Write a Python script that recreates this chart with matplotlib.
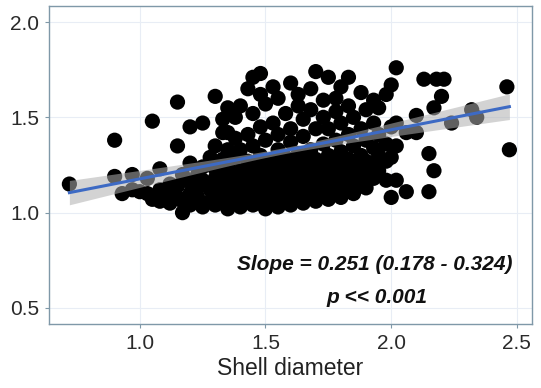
import numpy as np
import matplotlib
matplotlib.use("Agg")
import matplotlib.pyplot as plt

# ---- data ----
columns = {
    0.72: [1.15],
    0.90: [1.19, 1.38],
    0.93: [1.10],
    0.97: [1.20, 1.12],
    1.00: [1.11],
    1.03: [1.10, 1.18],
    1.05: [1.48, 1.07],
    1.08: [1.23, 1.12, 1.06],
    1.12: [1.10, 1.15, 1.05],
    1.15: [1.35, 1.58, 1.08, 1.14],
    1.17: [1.00, 1.06, 1.20],
    1.20: [1.26, 1.45, 1.04, 1.10, 1.16],
    1.23: [1.08, 1.13, 1.20],
    1.25: [1.47, 1.03, 1.17, 1.24],
    1.28: [1.29, 1.06, 1.12],
    1.30: [1.61, 1.04, 1.10, 1.18, 1.23, 1.35],
    1.33: [1.49, 1.07, 1.14, 1.20, 1.28, 1.42],
    1.35: [1.42, 1.02, 1.10, 1.17, 1.25, 1.33, 1.55],
    1.38: [1.50, 1.05, 1.12, 1.20, 1.29, 1.39],
    1.40: [1.56, 1.03, 1.09, 1.15, 1.22, 1.33],
    1.43: [1.65, 1.06, 1.12, 1.19, 1.27, 1.41],
    1.45: [1.71, 1.04, 1.10, 1.17, 1.24, 1.35, 1.52],
    1.48: [1.73, 1.62, 1.07, 1.14, 1.21, 1.30, 1.45],
    1.50: [1.02, 1.09, 1.16, 1.25, 1.38, 1.57],
    1.53: [1.05, 1.12, 1.19, 1.28, 1.47, 1.66],
    1.55: [1.03, 1.09, 1.16, 1.24, 1.33, 1.41, 1.60],
    1.58: [1.06, 1.13, 1.20, 1.29, 1.52],
    1.60: [1.04, 1.10, 1.17, 1.25, 1.37, 1.44, 1.68],
    1.63: [1.07, 1.14, 1.22, 1.31, 1.56, 1.62],
    1.65: [1.05, 1.11, 1.19, 1.27, 1.40, 1.49],
    1.68: [1.08, 1.15, 1.23, 1.33, 1.54, 1.65],
    1.70: [1.06, 1.12, 1.20, 1.28, 1.44, 1.74],
    1.73: [1.09, 1.17, 1.25, 1.36, 1.50, 1.59],
    1.75: [1.07, 1.14, 1.22, 1.30, 1.44, 1.71],
    1.78: [1.10, 1.18, 1.26, 1.38, 1.53, 1.60],
    1.80: [1.08, 1.15, 1.23, 1.32, 1.47, 1.66],
    1.83: [1.12, 1.20, 1.28, 1.41, 1.56, 1.71],
    1.85: [1.10, 1.17, 1.25, 1.35, 1.50],
    1.88: [1.14, 1.22, 1.30, 1.44, 1.63],
    1.90: [1.13, 1.20, 1.27, 1.38, 1.54],
    1.93: [1.18, 1.26, 1.34, 1.47, 1.59],
    1.95: [1.22, 1.30, 1.41, 1.55],
    1.98: [1.17, 1.27, 1.36, 1.62],
    2.00: [1.08, 1.29, 1.45, 1.67],
    2.02: [1.17, 1.47, 1.76, 1.35],
    2.06: [1.11, 1.42],
    2.10: [1.51, 1.42],
    2.13: [1.70],
    2.15: [1.11, 1.31],
    2.17: [1.55, 1.22],
    2.18: [1.70],
    2.20: [1.61],
    2.21: [1.70],
    2.24: [1.47],
    2.32: [1.54],
    2.34: [1.50],
    2.46: [1.66],
    2.47: [1.33],
}
shell_diameter = [x for x, ys in columns.items() for _ in ys]
response = [y for ys in columns.values() for y in ys]

fit_x = [0.72, 2.47]
fit_y = [1.105, 1.556]
band_center_x = 1.57
band_min_hw = 0.016
band_curv = 0.0053

x_ticks = [1.0, 1.5, 2.0, 2.5]
y_ticks = [0.5, 1.0, 1.5, 2.0]
xlabel = "Shell diameter"
annot1 = "Slope = 0.251 (0.178 - 0.324)"
annot2 = "p << 0.001"

# ---- plot ----
plt.rcParams['font.family'] = ['Liberation Sans', 'DejaVu Sans']
fig = plt.figure(figsize=(5.41, 3.88), dpi=100)
ax = fig.add_axes([0.0906, 0.165, 0.8928, 0.8195])
ax.set_facecolor('white')

ax.scatter(shell_diameter, response, s=120, c='black', edgecolors='none', zorder=2)

bx = np.linspace(fit_x[0], fit_x[1], 100)
slope = (fit_y[1] - fit_y[0]) / (fit_x[1] - fit_x[0])
by = fit_y[0] + slope * (bx - fit_x[0])
hw = np.sqrt(band_min_hw**2 + band_curv * (bx - band_center_x)**2)
ax.fill_between(bx, by - hw, by + hw, color='#b0b0b0', alpha=0.55, lw=0, zorder=3)
ax.plot(fit_x, fit_y, color='#3d6ac4', lw=2.2, zorder=4)

ax.set_xlim(0.639, 2.56)
ax.set_ylim(0.416, 2.084)
ax.set_xticks(x_ticks)
ax.set_yticks(y_ticks)
ax.grid(True, color='#e8edf5', lw=0.8, zorder=0)
ax.set_axisbelow(True)
for sp in ax.spines.values():
    sp.set_color('#7f98a8')
    sp.set_linewidth(1.0)
ax.tick_params(axis='both', colors='#7f98a8', labelcolor='#2a2a2a',
               labelsize=15, length=3, width=0.8, pad=4)
ax.set_xlabel(xlabel, fontsize=16.5, color='#222222', labelpad=3)

ax.text(0.675, 0.186, annot1, transform=ax.transAxes, ha='center', va='center',
        fontsize=15, fontweight='bold', fontstyle='italic', color='#111111')
ax.text(0.678, 0.082, annot2, transform=ax.transAxes, ha='center', va='center',
        fontsize=15, fontweight='bold', fontstyle='italic', color='#111111')

fig.savefig('out.png', dpi=100)
